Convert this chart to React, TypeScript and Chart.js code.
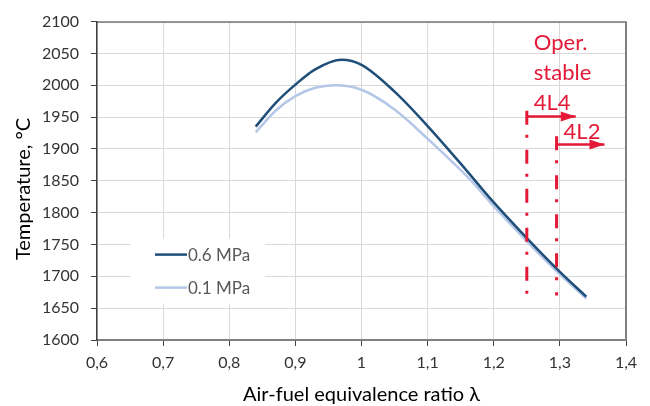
import React, { useEffect, useRef } from 'react';
import { Chart, registerables } from 'chart.js';

Chart.register(...registerables);

// ---- data ----
const lambdaHigh = [0.84, 0.87, 0.9, 0.93, 0.97, 1.0, 1.05, 1.1, 1.15, 1.2, 1.25, 1.3, 1.34];
const tempHigh = [1935, 1972, 2001, 2025, 2040, 2032, 1990, 1936, 1877, 1816, 1760, 1707, 1668];
const lambdaLow = [0.84, 0.87, 0.9, 0.93, 0.96, 1.0, 1.05, 1.1, 1.165, 1.2, 1.25, 1.3, 1.34];
const tempLow = [1926, 1960, 1983, 1996, 2000, 1993, 1962, 1916, 1851, 1810, 1755, 1703, 1665];
const seriesLabels = ['0.6 MPa', '0.1 MPa'];

const xMin = 0.6;
const xMax = 1.4;
const xStep = 0.1;
const yMin = 1600;
const yMax = 2100;
const yStep = 50;

const limitLambda = [1.25, 1.295];
const limitTop = [1960, 1920];
const limitBottom = [1668, 1670];
const arrowTemp = [1951, 1907];
const arrowEnd = [1.324, 1.3675];
const limitLabels = ['4L4', '4L2'];
const noteLines = ['Oper.', 'stable'];

const xTitle = 'Air-fuel equivalence ratio λ';
const yTitle = 'Temperature, °C';

const DARK = '#1F4E79';
const LIGHT = '#B4C7E7';
const RED = '#E31937';
const FONT = 'Lato, "Open Sans", sans-serif';

const toPts = (xs: number[], ys: number[]) => xs.map((x, i) => ({ x, y: ys[i] }));

const customPlugin = {
  id: 'custom',
  beforeDatasetsDraw(chart: any) {
    const { ctx, chartArea } = chart;
    ctx.save();
    // frame top/right
    ctx.strokeStyle = '#404040';
    ctx.lineWidth = 1;
    ctx.beginPath();
    ctx.moveTo(chartArea.left, chartArea.top + 0.5);
    ctx.lineTo(chartArea.right, chartArea.top + 0.5);
    ctx.stroke();
    ctx.strokeStyle = '#7f7f7f';
    ctx.lineWidth = 2;
    ctx.beginPath();
    ctx.moveTo(chartArea.right, chartArea.top);
    ctx.lineTo(chartArea.right, chartArea.bottom);
    ctx.stroke();

    // legend box
    const lx = chartArea.left + 33;
    const ly = chartArea.top + 217;
    ctx.fillStyle = '#ffffff';
    ctx.fillRect(lx, ly, 135, 65);
    const colors = [DARK, LIGHT];
    seriesLabels.forEach((lab, i) => {
      const yy = ly + 16 + i * 33;
      ctx.strokeStyle = colors[i];
      ctx.lineWidth = 2.5;
      ctx.beginPath();
      ctx.moveTo(lx + 25, yy);
      ctx.lineTo(lx + 57, yy);
      ctx.stroke();
      ctx.fillStyle = '#595959';
      ctx.font = `17px ${FONT}`;
      ctx.textBaseline = 'middle';
      ctx.textAlign = 'left';
      ctx.fillText(lab, lx + 58, yy + 1);
    });
    ctx.restore();
  },
  afterDatasetsDraw(chart: any) {
    const { ctx, chartArea } = chart;
    const xs = chart.scales.x;
    const ys = chart.scales.y;
    ctx.save();
    // arrowheads
    chart.data.datasets.forEach((ds: any, i: number) => {
      if (!ds.arrow) return;
      const meta = chart.getDatasetMeta(i);
      const pts = meta.data;
      const p = pts[pts.length - 1];
      const q = pts[pts.length - 2];
      const ang = Math.atan2(p.y - q.y, p.x - q.x);
      const len = 15;
      const half = 5;
      ctx.fillStyle = RED;
      ctx.beginPath();
      ctx.moveTo(p.x, p.y);
      ctx.lineTo(p.x - len * Math.cos(ang) + half * Math.sin(ang), p.y - len * Math.sin(ang) - half * Math.cos(ang));
      ctx.lineTo(p.x - len * Math.cos(ang) - half * Math.sin(ang), p.y - len * Math.sin(ang) + half * Math.cos(ang));
      ctx.closePath();
      ctx.fill();
    });
    // red labels
    ctx.fillStyle = RED;
    ctx.font = `22px ${FONT}`;
    ctx.textAlign = 'left';
    ctx.textBaseline = 'alphabetic';
    limitLabels.forEach((lab, i) => {
      const px = xs.getPixelForValue(limitLambda[i]) + 7;
      const py = ys.getPixelForValue(arrowTemp[i]) - 6;
      ctx.fillText(lab, px, py);
      if (i === 0) {
        noteLines.forEach((t, j) => {
          ctx.fillText(t, px, py - 30 * (noteLines.length - j));
        });
      }
    });

    // axis titles
    ctx.fillStyle = '#000000';
    ctx.font = `20px ${FONT}`;
    ctx.textAlign = 'center';
    ctx.textBaseline = 'alphabetic';
    ctx.fillText(xTitle, (chartArea.left + chartArea.right) / 2, 401);
    ctx.save();
    ctx.translate(30, 189);
    ctx.rotate(-Math.PI / 2);
    ctx.fillText(yTitle, 0, 0);
    ctx.restore();
    ctx.restore();
  },
};

export default function App() {
  const ref = useRef<HTMLCanvasElement>(null);
  useEffect(() => {
    if (!ref.current) return;
    const dashed = (i: number) => ({
      label: 'limit' + i,
      data: [
        { x: limitLambda[i], y: limitTop[i] },
        { x: limitLambda[i], y: limitBottom[i] },
      ],
      borderColor: RED,
      borderWidth: 3,
      borderDash: [14, 10, 3, 12],
      pointRadius: 0,
      tension: 0,
    });
    const arrow = (i: number) => ({
      label: 'arrow' + i,
      data: [
        { x: limitLambda[i], y: arrowTemp[i] },
        { x: arrowEnd[i] - 0.01, y: arrowTemp[i] },
        { x: arrowEnd[i], y: arrowTemp[i] },
      ],
      arrow: true,
      borderColor: RED,
      borderWidth: 2.5,
      pointRadius: 0,
      tension: 0,
    });
    const chart = new Chart(ref.current, {
      type: 'line',
      data: {
        datasets: [
          dashed(0),
          dashed(1),
          arrow(0),
          arrow(1),
          {
            label: seriesLabels[0],
            data: toPts(lambdaHigh, tempHigh),
            borderColor: DARK,
            borderWidth: 2.5,
            pointRadius: 0,
            cubicInterpolationMode: 'monotone',
          },
          {
            label: seriesLabels[1],
            data: toPts(lambdaLow, tempLow),
            borderColor: LIGHT,
            borderWidth: 2.5,
            pointRadius: 0,
            cubicInterpolationMode: 'monotone',
          },
        ] as any,
      },
      options: {
        animation: false,
        responsive: false,
        devicePixelRatio: 1,
        layout: { padding: { left: 0, right: 24, top: 18, bottom: 0 } },
        plugins: { legend: { display: false }, tooltip: { enabled: false } },
        scales: {
          x: {
            type: 'linear',
            min: xMin,
            max: xMax,
            afterFit: (s: any) => { s.height = 66; },
            ticks: {
              stepSize: xStep,
              padding: 7,
              color: '#333333',
              font: { family: FONT, size: 16 },
              callback: (v: any) => String(Number(Number(v).toFixed(1))).replace('.', ','),
            },
            grid: { color: '#d9d9d9', lineWidth: 1, tickLength: 6, tickColor: '#404040' },
            border: { color: '#7f7f7f', width: 2 },
          },
          y: {
            type: 'linear',
            min: yMin,
            max: yMax,
            afterFit: (s: any) => { s.width = 97; },
            ticks: {
              stepSize: yStep,
              padding: 12,
              color: '#333333',
              font: { family: FONT, size: 16 },
              callback: (v: any) => String(Math.round(Number(v))),
            },
            grid: { color: '#d9d9d9', lineWidth: 1, tickLength: 6, tickColor: '#404040' },
            border: { color: '#404040', width: 1.5 },
          },
        },
      },
      plugins: [customPlugin],
    } as any);
    return () => chart.destroy();
  }, []);
  return (
    <div style={{ position: 'absolute', left: 0, top: 0, width: 650, height: 406, background: '#fff' }}>
      <canvas ref={ref} width={650} height={406} style={{ display: 'block' }} />
    </div>
  );
}
